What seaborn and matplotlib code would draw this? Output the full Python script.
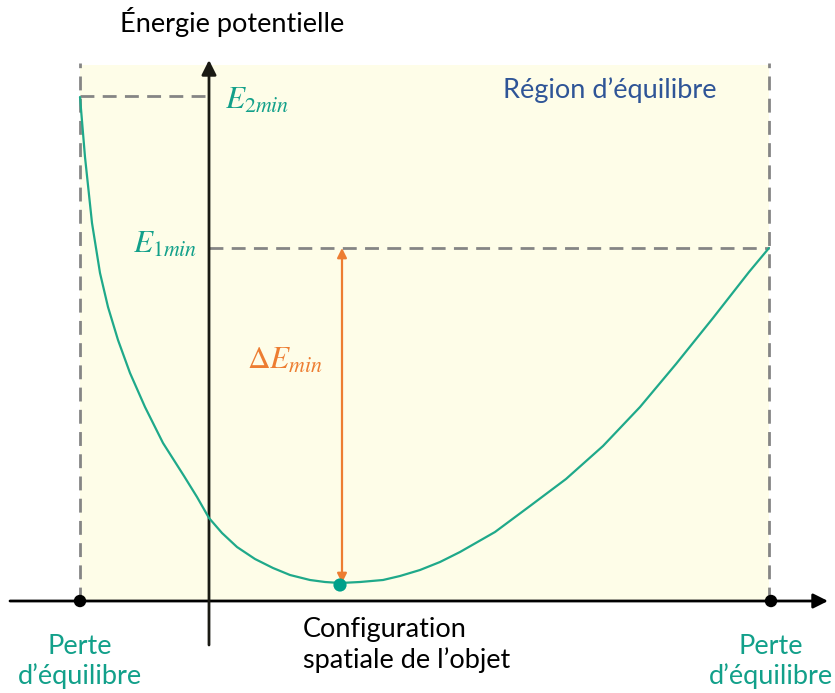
import matplotlib
matplotlib.use("Agg")
import matplotlib.pyplot as plt
import seaborn as sns
import pandas as pd

sns.set_style("white")
plt.rcParams['font.family'] = ['Lato', 'DejaVu Sans']
plt.rcParams['mathtext.fontset'] = 'stix'

# Curve of potential energy
curve_x = [-1.29, -1.24, -1.17, -1.09, -1.01, -0.91, -0.79, -0.64, -0.46, -0.25, -0.12, 0.00,
           0.13, 0.28, 0.46, 0.64, 0.81, 1.01, 1.16, 1.31,
           1.51, 1.74, 1.91, 2.11, 2.31, 2.51, 2.86, 3.21, 3.57, 3.94, 4.31, 4.67, 5.04, 5.40, 5.60]
curve_y = [5.04, 4.44, 3.78, 3.28, 2.94, 2.61, 2.28, 1.94, 1.58, 1.25, 1.04, 0.83,
           0.68, 0.54, 0.42, 0.33, 0.26, 0.21, 0.19, 0.18,
           0.19, 0.21, 0.25, 0.31, 0.39, 0.49, 0.69, 0.95, 1.22, 1.55, 1.94, 2.37, 2.83, 3.29, 3.53]

x_left_limit = -1.29
x_right_limit = 5.60
x_min_config = 1.32
E1min = 3.53
E2min = 5.05
E0 = 0.18
region_top = 5.36

labels_limits = ["Perte\nd\u2019\u00e9quilibre", "Perte\nd\u2019\u00e9quilibre"]

teal = "#1FA98A"
teal_text = "#12A08A"
orange = "#ED7D31"
grey = "#858585"

fig = plt.figure(figsize=(8.35, 6.93), dpi=100)
ax = fig.add_axes([0, 0, 1, 1])
ax.set_xlim(-2.09, 6.26)
ax.set_ylim(-0.92, 6.01)
ax.axis("off")

# equilibrium region
ax.fill_between([x_left_limit, x_right_limit], 0, region_top, color="#FEFDE8", zorder=0, lw=0)

dash = (5, 3)
ax.plot([x_left_limit, x_left_limit], [0, 5.38], color=grey, lw=2, dashes=dash, zorder=1)
ax.plot([x_right_limit, x_right_limit], [0, 5.38], color=grey, lw=2, dashes=dash, zorder=1)
ax.plot([x_left_limit, 0], [E2min, E2min], color=grey, lw=2, dashes=dash, zorder=1)
ax.plot([0, x_right_limit], [E1min, E1min], color=grey, lw=2, dashes=dash, zorder=1)

# axes arrows
ax.annotate("", xy=(6.19, 0), xytext=(-1.99, 0),
            arrowprops=dict(arrowstyle="-|>", color="black", lw=2, mutation_scale=22,
                            shrinkA=0, shrinkB=0), zorder=3)
ax.annotate("", xy=(0, 5.41), xytext=(0, -0.44),
            arrowprops=dict(arrowstyle="-|>", color="#1a1a14", lw=2, mutation_scale=22,
                            shrinkA=0, shrinkB=0), zorder=3)

# curve
df = pd.DataFrame({"x": curve_x, "y": curve_y})
sns.lineplot(data=df, x="x", y="y", ax=ax, color=teal, lw=1.6, sort=False, zorder=4)

# delta E arrow
ax.annotate("", xy=(x_min_config + 0.01, E1min), xytext=(x_min_config + 0.01, E0),
            arrowprops=dict(arrowstyle="<|-|>", color=orange, lw=1.6, mutation_scale=14,
                            shrinkA=0, shrinkB=0), zorder=5)

# points
sns.scatterplot(x=[x_min_config - 0.01], y=[E0 - 0.02], ax=ax, color="#00A08A", s=90, edgecolor="none", zorder=6)
sns.scatterplot(x=[x_left_limit, x_right_limit + 0.02], y=[0, 0], ax=ax, color="black", s=80,
                edgecolor="none", zorder=6)

# texts
fs = 19.5
mfs = 22.5
ax.text(0.23, 5.79, "\u00c9nergie potentielle", fontsize=fs, ha="center", va="center", color="black")
ax.text(0.16, 5.01, r"$E_{2min}$", fontsize=mfs, ha="left", va="center", color=teal_text)
ax.text(-0.12, 3.57, r"$E_{1min}$", fontsize=mfs, ha="right", va="center", color=teal_text)
ax.text(0.76, 2.41, r"$\Delta E_{min}$", fontsize=mfs, ha="center", va="center", color=orange)
ax.text(4.01, 5.11, "R\u00e9gion d\u2019\u00e9quilibre", fontsize=fs, ha="center", va="center", color="#2F5597")
ax.text(0.94, -0.44, "Configuration\nspatiale de l\u2019objet", fontsize=fs, ha="left", va="center",
        color="black", linespacing=1.22)
ax.text(x_left_limit, -0.605, labels_limits[0], fontsize=fs, ha="center", va="center", color=teal_text,
        linespacing=1.22)
ax.text(x_right_limit + 0.02, -0.605, labels_limits[1], fontsize=fs, ha="center", va="center", color=teal_text,
        linespacing=1.22)

fig.savefig("out.png", dpi=100)
